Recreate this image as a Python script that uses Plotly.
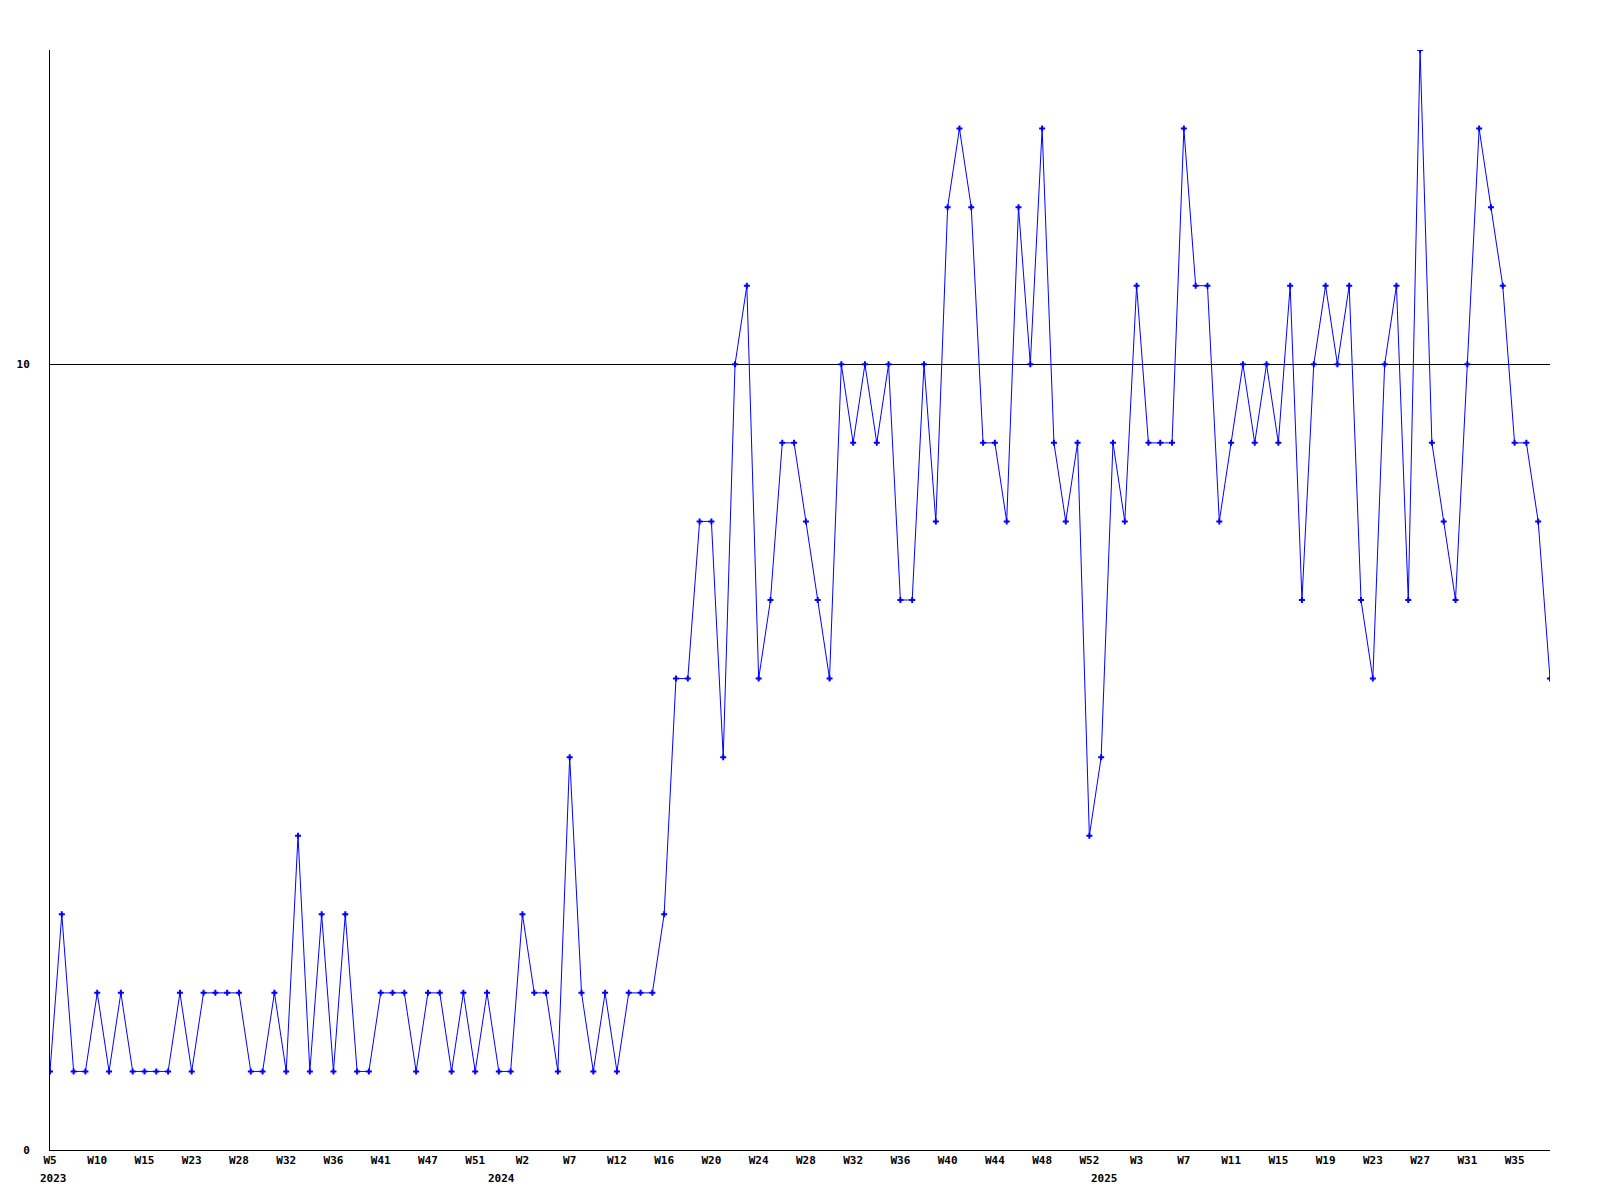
import plotly.graph_objects as go

# Weekly values, 2023 W5 .. 2025 W38 (128 points)
values = [
    1, 3, 1, 1, 2, 1, 2, 1, 1, 1, 1, 2, 1, 2, 2, 2, 2, 1, 1, 2, 1, 4, 1, 3, 1, 3, 1, 1, 2, 2, 2, 1, 2,
    2, 1, 2, 1, 2, 1, 1, 3, 2, 2, 1, 5, 2, 1, 2, 1, 2, 2, 2, 3,
    6, 6, 8, 8, 5, 10, 11, 6, 7, 9, 9, 8, 7, 6, 10, 9, 10, 9,
    10, 7, 7, 10, 8, 12, 13, 12, 9, 9, 8, 12, 10, 13, 9, 8, 9, 4, 5,
    9, 8, 11, 9, 9, 9, 13, 11, 11, 8, 9, 10, 9, 10, 9, 11, 7, 10,
    11, 10, 11, 7, 6, 10, 11, 7, 14, 9, 8, 7, 10, 13, 12, 11, 9, 9, 8, 6,
]

# Tick labels shown on every 4th point
tick_labels = [
    "W5", "W10", "W15", "W23", "W28", "W32", "W36", "W41", "W47", "W51",
    "W2", "W7", "W12", "W16", "W20", "W24", "W28", "W32", "W36", "W40",
    "W44", "W48", "W52", "W3", "W7", "W11", "W15", "W19", "W23", "W27",
    "W31", "W35",
]
tick_step = 4

# Year labels and the point index where each year starts
year_labels = ["2023", "2024", "2025"]
year_positions = [0, 38, 89]

y_ticks = [0, 10]

x = list(range(len(values)))
font = dict(family="DejaVu Sans Mono", size=11, color="black", weight="bold")

fig = go.Figure()
fig.add_trace(go.Scatter(
    x=x, y=values, mode="lines+markers",
    line=dict(color="#0000ff", width=1),
    marker=dict(symbol="cross", size=5, color="#0000ff", line=dict(width=0)),
    hoverinfo="x+y", showlegend=False,
))

for label, pos in zip(year_labels, year_positions):
    fig.add_annotation(
        x=pos, y=0, xref="x", yref="paper", text=label, showarrow=False,
        yanchor="top", yshift=-20, xshift=3, font=font,
    )

fig.update_layout(
    width=1600, height=1200,
    paper_bgcolor="white", plot_bgcolor="white",
    margin=dict(l=42, r=58, t=42, b=58, autoexpand=False),
    font=font,
)
fig.update_xaxes(
    range=[0, len(values) - 1],
    tickvals=x[::tick_step], ticktext=tick_labels,
    tickangle=0,
    showgrid=False, zeroline=False,
    showline=True, linecolor="black", linewidth=1,
    ticks="", tickfont=font,
)
fig.update_yaxes(
    range=[0, 14],
    tickvals=y_ticks,
    showgrid=True, gridcolor="black", gridwidth=1,
    zeroline=False,
    showline=True, linecolor="black", linewidth=1,
    ticks="", tickfont=font, ticklabelstandoff=17,
)

fig.write_html("out.html")
